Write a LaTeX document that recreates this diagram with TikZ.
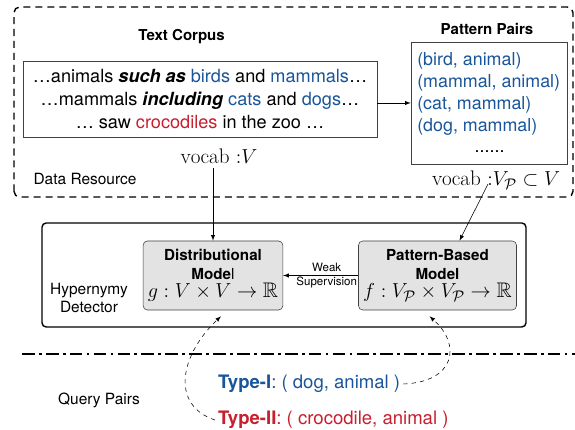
\documentclass[tikz,border=0pt]{standalone}
\usepackage{fontspec}
\usepackage{amssymb}
\setsansfont{TeX Gyre Heros}
\definecolor{pairblue}{RGB}{25,85,155}
\definecolor{pairred}{RGB}{200,30,45}
\tikzset{
  heading/.style={font=\sffamily\bfseries\fontsize{10.7}{13}\selectfont},
  label/.style={font=\sffamily\fontsize{11}{12.2}\selectfont, align=center},
  pair/.style={anchor=west, text=pairblue, font=\sffamily\fontsize{12.7}{14}\selectfont, inner sep=0pt},
  model/.style={draw=black!75, fill=gray!22, rounded corners=3pt, minimum height=1.725cm, align=center, font=\sffamily\bfseries\fontsize{10.8}{13.3}\selectfont},
  vocab/.style={font=\fontsize{15}{15}\selectfont},
  query/.style={anchor=west, font=\sffamily\fontsize{13.2}{15}\selectfont, inner sep=2pt}
}
\begin{document}
\begin{tikzpicture}[>=latex]
  \useasboundingbox (0,0) rectangle (14.375,10.75);

  % Data resource
  \draw[dash pattern=on 5pt off 3.5pt, line width=1pt, rounded corners=4pt] (0.35,5.825) rectangle (14.325,10.575);
  \node[label] at (2.125,6.275) {Data Resource};

  % Text corpus
  \node[heading] at (4.54,9.825) {Text Corpus};
  \node[draw=black!75, minimum width=8.85cm, minimum height=1.9cm, align=center, font=\sffamily\fontsize{12.9}{16.4}\selectfont] (corpus) at (5,8.275) {…animals \textbf{\textit{such as}} \textcolor{pairblue}{birds} and \textcolor{pairblue}{mammals}…\\ …mammals \textbf{\textit{including}} \textcolor{pairblue}{cats} and \textcolor{pairblue}{dogs}…\\ … saw \textcolor{pairred}{crocodiles} in the zoo …};
  \node[vocab] (vocab) at (5.475,6.85) {$\mathrm{vocab}\ {:}V$};

  % Pattern pairs
  \node[heading] at (12.175,10.025) {Pattern Pairs};
  \node[draw=black!75, minimum width=3.9cm, minimum height=3.05cm] (pairs) at (12.225,8.175) {};
  \node[pair] at (10.425,9.225) {(bird, animal)};
  \node[pair] at (10.425,8.675) {(mammal, animal)};
  \node[pair] at (10.425,8.125) {(cat, mammal)};
  \node[pair] at (10.425,7.575) {(dog, mammal)};
  \node[pair, anchor=base, text=black] at (12.24,6.925) {......};
  \node[vocab] (vocabP) at (12.4,6.25) {$\mathrm{vocab}\ {:}V_{\mathcal{P}}\subset V$};
  \draw[->] (corpus.east |- pairs.west) -- (pairs.west);

  % Hypernymy detector
  \draw[line width=1pt, rounded corners=3pt] (1.05,2.575) rectangle (13.15,5.175);
  \node[label] at (2.225,3.3) {Hypernymy\\Detector};
  \node[model, minimum width=3.45cm] (dist) at (5.325,3.8625) {Distributional\\Mode{\mdseries l}\\{\fontsize{15}{15}\selectfont$g:V\times V\to\mathbb{R}$}};
  \node[model, minimum width=3.875cm] (pattern) at (10.9375,3.8625) {Pattern-Based\\Model\\{\fontsize{15}{15}\selectfont$f:V_{\mathcal{P}}\times V_{\mathcal{P}}\to\mathbb{R}$}};
  \draw[->] (pattern.west) -- (dist.east) node[midway, xshift=0.15cm, align=center, font=\sffamily\fontsize{8.2}{10}\selectfont] {Weak\\Supervision};
  \draw[->] (vocab.south -| dist.north) -- (dist.north);
  \draw[->] ([xshift=-0.2cm,yshift=-0.1cm]vocabP.center) -- ([xshift=0.55cm]pattern.north);

  % Query pairs
  \draw[line width=1pt, dash pattern=on 9pt off 3pt on 2pt off 3pt] (0.55,1.9) -- (14.375,1.9);
  \node[label] at (2.475,0.75) {Query Pairs};
  \node[query, text=pairblue] (type1) at (5.375,1.15) {\textbf{Type-I}: ( dog, animal )};
  \node[query, text=pairred] (type2) at (5.375,0.25) {\textbf{Type-II}: ( crocodile, animal )};
  \draw[->, dashed] (type1.east) .. controls (11.375,1.2) and (11.55,2.125) .. ([xshift=-0.2cm,yshift=-0.15cm]pattern.south);
  \draw[->, dashed] (type2.west) .. controls (4.25,0.625) and (4.5,1.875) .. ([xshift=0.2cm,yshift=-0.15cm]dist.south);
\end{tikzpicture}
\end{document}
